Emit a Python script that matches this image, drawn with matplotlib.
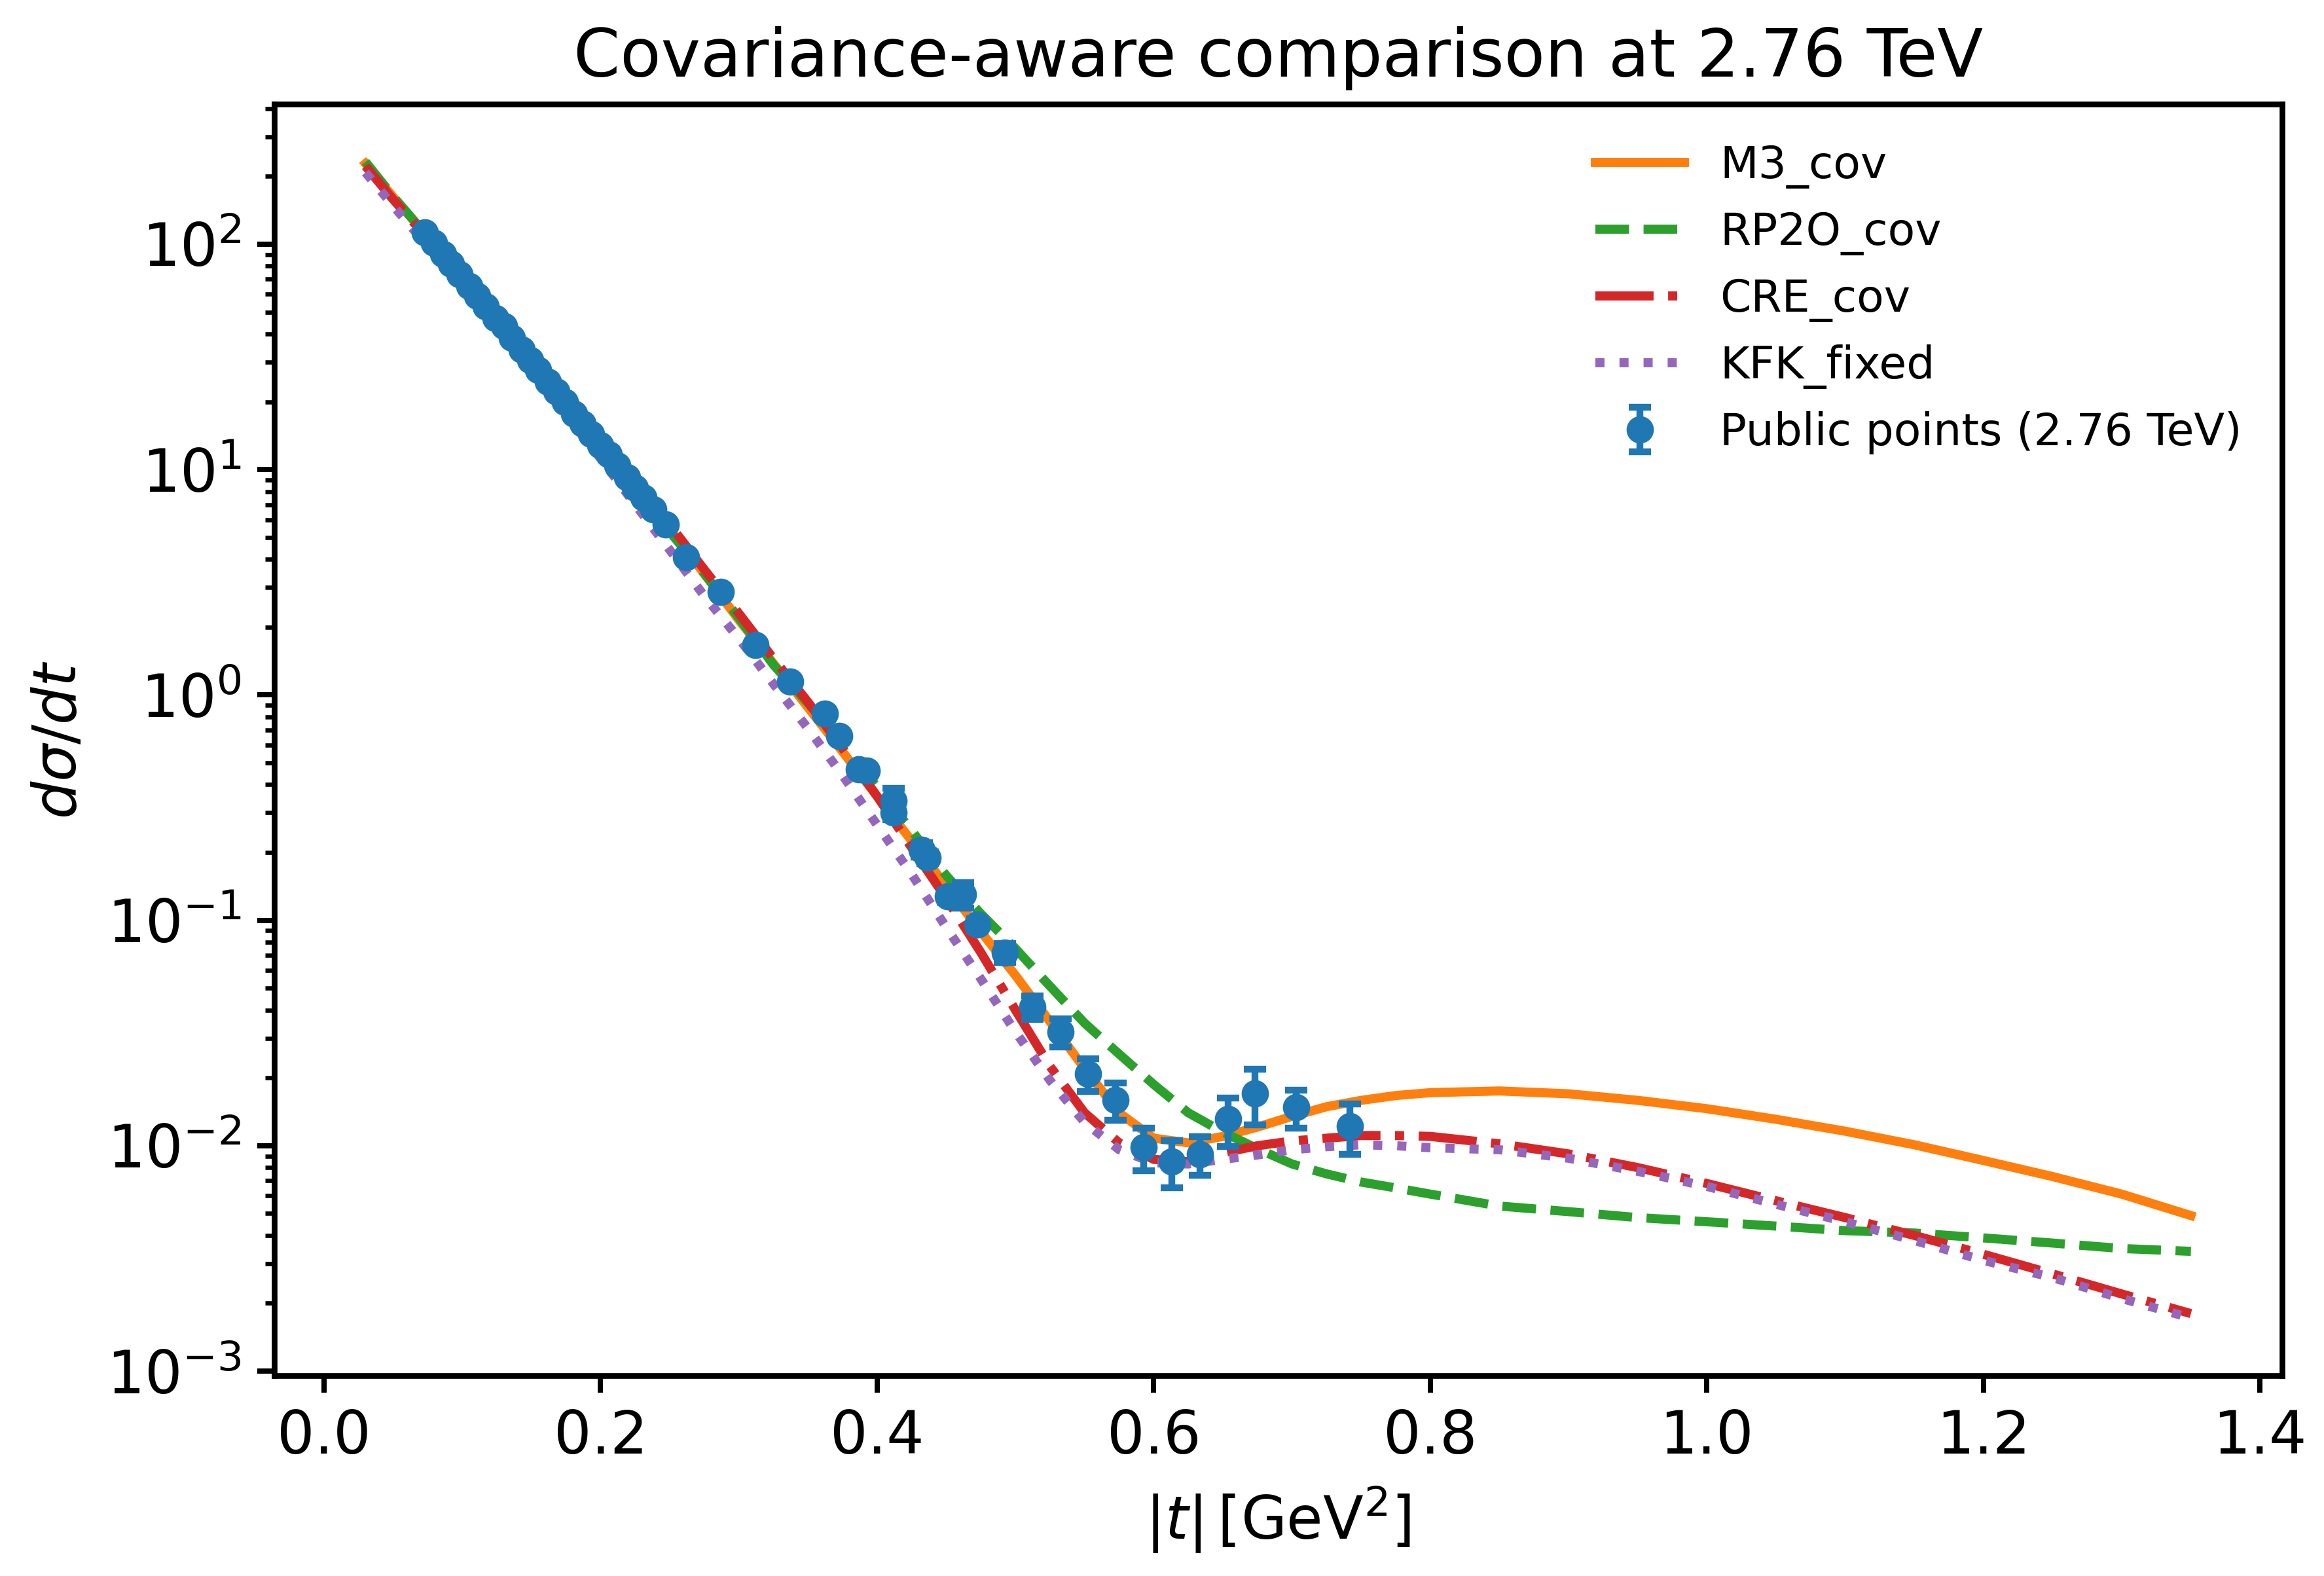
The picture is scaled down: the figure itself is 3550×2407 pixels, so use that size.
import numpy as np
import matplotlib
matplotlib.use("Agg")
import matplotlib.pyplot as plt

# 公開データ点 (2.76 TeV)
t_data = [0.073, 0.0795, 0.086, 0.092, 0.098, 0.105, 0.111, 0.117, 0.124, 0.130,
          0.136, 0.143, 0.149, 0.155, 0.162, 0.168, 0.174, 0.181, 0.187, 0.193,
          0.200, 0.206, 0.212, 0.219, 0.225, 0.231, 0.238, 0.247,
          0.262, 0.287, 0.312, 0.337, 0.362, 0.3725, 0.387, 0.3925, 0.412, 0.412,
          0.432, 0.4367, 0.451, 0.462, 0.4725, 0.4923, 0.5124, 0.5325, 0.5526,
          0.5723, 0.5928, 0.613, 0.6335, 0.6536, 0.6732, 0.7028, 0.7418]
y_data = [113, 101, 90.5, 81.6, 73.6, 65.3, 58.9, 53.1, 47.1, 43.2,
          38.4, 34.0, 30.7, 27.7, 24.6, 22.2, 20.0, 17.7, 16.0, 14.4,
          12.8, 11.7, 10.4, 9.23, 8.33, 7.51, 6.66, 5.71,
          4.08, 2.87, 1.67, 1.15, 0.824, 0.656, 0.468, 0.463, 0.34, 0.30,
          0.206, 0.190, 0.128, 0.1305, 0.0957, 0.072, 0.0413, 0.0320, 0.0209,
          0.0160, 0.00986, 0.00853, 0.00918, 0.0131, 0.0171, 0.0148, 0.01225]
y_err = [3.0, 2.7, 2.4, 2.2, 2.0, 1.8, 1.6, 1.4, 1.3, 1.2,
         1.0, 0.9, 0.85, 0.75, 0.7, 0.6, 0.55, 0.5, 0.45, 0.4,
         0.36, 0.6, 0.3, 0.26, 0.23, 0.21, 0.19, 0.16,
         0.12, 0.08, 0.05, 0.04, 0.04, 0.03, 0.02, 0.02, 0.045, 0.02,
         0.015, 0.012, 0.008, 0.017, 0.006, 0.007, 0.005, 0.0045, 0.0035,
         0.003, 0.0021, 0.002, 0.0018, 0.0032, 0.0047, 0.0028, 0.0031]

# モデル曲線
t_model = [0.03, 0.05, 0.075, 0.10, 0.125, 0.15, 0.175, 0.20, 0.225, 0.25,
           0.275, 0.30, 0.325, 0.35, 0.375, 0.40, 0.425, 0.45, 0.475, 0.50,
           0.525, 0.55, 0.575, 0.60, 0.625, 0.65, 0.675, 0.70, 0.725, 0.75,
           0.775, 0.80, 0.85, 0.90, 0.95, 1.00, 1.05, 1.10, 1.15, 1.20,
           1.25, 1.30, 1.35]
m3_cov = [228, 162, 108, 72, 47.5, 31, 20, 12.9, 8.3, 5.4,
          3.45, 2.15, 1.38, 0.88, 0.56, 0.355, 0.225, 0.142, 0.089, 0.057,
          0.0355, 0.022, 0.0140, 0.0108, 0.0103, 0.0110, 0.0121, 0.0135, 0.0149, 0.0159,
          0.0167, 0.0172, 0.0175, 0.0170, 0.0159, 0.0146, 0.0131, 0.0116, 0.0101, 0.0086,
          0.0073, 0.0061, 0.0049]
rp2o_cov = [232, 163, 108, 72, 47, 30.5, 19.8, 12.8, 8.2, 5.3,
            3.45, 2.2, 1.36, 0.92, 0.60, 0.39, 0.25, 0.158, 0.107, 0.075,
            0.051, 0.035, 0.0255, 0.0187, 0.0140, 0.0115, 0.0097, 0.0083, 0.0075, 0.0069,
            0.0065, 0.0061, 0.0054, 0.0051, 0.0048, 0.0046, 0.0044, 0.0042, 0.0041, 0.0039,
            0.0037, 0.0035, 0.0034]
cre_cov = [222, 158, 106, 71, 47, 31, 20.5, 13.4, 8.8, 5.7,
           3.6, 2.3, 1.45, 0.93, 0.58, 0.355, 0.21, 0.125, 0.072, 0.040,
           0.0225, 0.0140, 0.0103, 0.0087, 0.0085, 0.0093, 0.0100, 0.0105, 0.0108, 0.0111,
           0.0111, 0.0110, 0.0102, 0.0092, 0.0080, 0.0068, 0.0057, 0.0048, 0.0040, 0.0033,
           0.0027, 0.0022, 0.0018]
kfk_fixed = [208, 148, 98, 65, 42.5, 27.5, 17.6, 11.2, 7.0, 4.4,
             2.75, 1.78, 1.12, 0.71, 0.44, 0.265, 0.16, 0.093, 0.055, 0.032,
             0.0195, 0.0127, 0.0096, 0.0084, 0.0083, 0.0087, 0.0091, 0.0096, 0.0099, 0.0101,
             0.0100, 0.0098, 0.0096, 0.0088, 0.0077, 0.0066, 0.0055, 0.0046, 0.0038, 0.0031,
             0.0026, 0.0021, 0.00172]

plt.rcParams['axes.linewidth'] = 1.25
plt.rcParams['xtick.major.width'] = 1.15
plt.rcParams['ytick.major.width'] = 1.15
plt.rcParams['ytick.minor.width'] = 0.95
plt.rcParams['xtick.major.size'] = 3.7
plt.rcParams['ytick.major.size'] = 3.7
plt.rcParams['ytick.minor.size'] = 2.0

fig = plt.figure(figsize=(7.1, 4.814))
ax = fig.add_subplot(1, 1, 1)
fig.subplots_adjust(left=0.118, right=0.982, top=0.934, bottom=0.127)

ax.plot(t_model, m3_cov, color="C1", linestyle="-", linewidth=2, label="M3_cov")
ax.plot(t_model, rp2o_cov, color="C2", linestyle="--", linewidth=2, label="RP2O_cov")
ax.plot(t_model, cre_cov, color="C3", linestyle="-.", linewidth=2, label="CRE_cov")
ax.plot(t_model, kfk_fixed, color="C4", linestyle=":", linewidth=2, label="KFK_fixed")
ax.errorbar(t_data, y_data, yerr=y_err, fmt="o", color="C0", markersize=5,
            elinewidth=1.5, capsize=2.5, capthick=1.5, label="Public points (2.76 TeV)")

ax.set_yscale("log")
ax.set_xlabel(r"$|t|\,[\mathrm{GeV}^2]$", fontsize=13)
ax.set_ylabel(r"$d\sigma/dt$", fontsize=13)
ax.set_title("Covariance-aware comparison at 2.76 TeV", fontsize=14.7)
ax.tick_params(axis="both", which="major", labelsize=13)
ax.legend(loc="upper right", frameon=False, fontsize=9.8)

fig.savefig("out.png", dpi=500)
